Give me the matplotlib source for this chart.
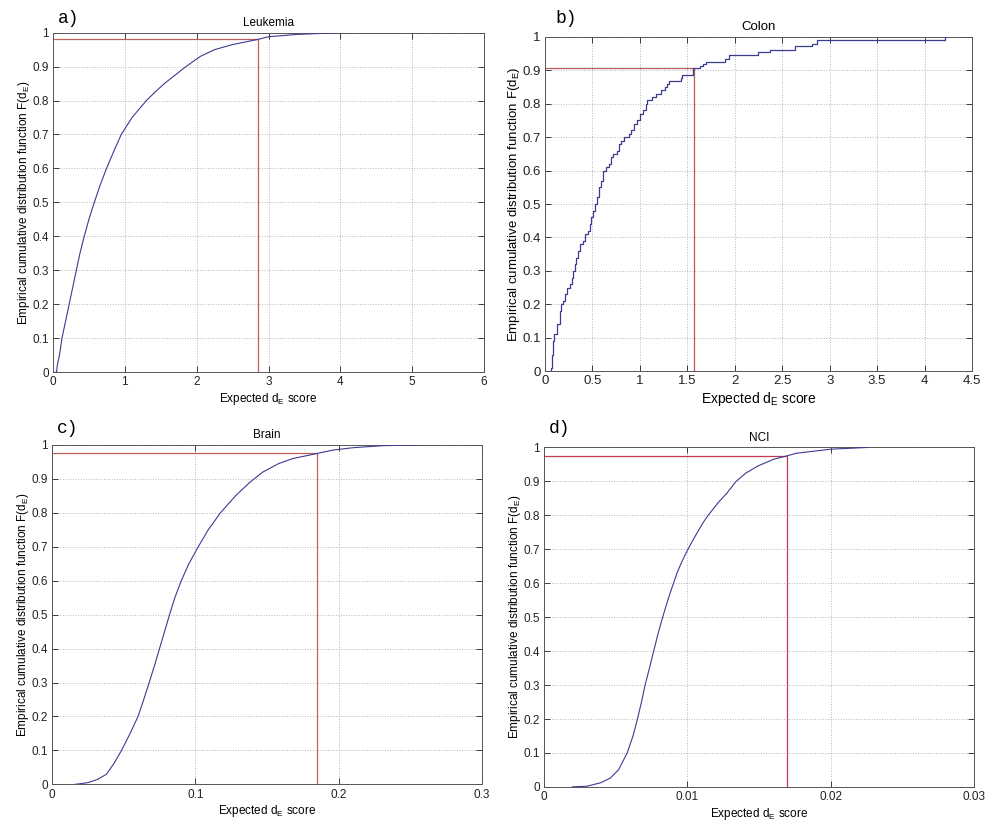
import matplotlib
matplotlib.use("Agg")
from matplotlib import pyplot as plt
from matplotlib.ticker import FuncFormatter

# ---- data ----
leuk_x = [0.04, 0.05, 0.06, 0.09, 0.125, 0.175, 0.225, 0.275, 0.325, 0.375, 0.435,
          0.50, 0.575, 0.655, 0.745, 0.845, 0.95, 1.10, 1.20, 1.30, 1.42, 1.55,
          1.70, 1.85, 2.05, 2.25, 2.50, 2.85, 3.00, 3.40, 4.00]
leuk_y = [0.0, 0.0, 0.02, 0.05, 0.10, 0.15, 0.20, 0.25, 0.30, 0.35, 0.40,
          0.45, 0.50, 0.55, 0.60, 0.65, 0.70, 0.75, 0.775, 0.80, 0.825, 0.85,
          0.875, 0.90, 0.93, 0.95, 0.965, 0.98, 0.988, 0.995, 1.0]

colon_x = [0.053, 0.06, 0.07, 0.085, 0.095, 0.13, 0.155, 0.17, 0.19, 0.21, 0.23,
           0.26, 0.28, 0.30, 0.32, 0.33, 0.35, 0.37, 0.40, 0.42, 0.45, 0.47, 0.49,
           0.51, 0.53, 0.55, 0.57, 0.59, 0.61, 0.64, 0.67, 0.70, 0.72, 0.76, 0.78,
           0.80, 0.83, 0.88, 0.91, 0.94, 0.97, 1.00, 1.03, 1.06, 1.08, 1.13, 1.17,
           1.22, 1.26, 1.29, 1.31, 1.43, 1.44, 1.56, 1.63, 1.67, 1.70, 1.90, 1.94,
           2.24, 2.37, 2.63, 2.81, 2.87, 4.22]
colon_y = [0.0, 0.01, 0.05, 0.09, 0.11, 0.14, 0.18, 0.20, 0.21, 0.23, 0.25,
           0.26, 0.28, 0.30, 0.32, 0.34, 0.36, 0.38, 0.39, 0.41, 0.42, 0.44, 0.46,
           0.48, 0.50, 0.52, 0.55, 0.57, 0.60, 0.61, 0.62, 0.64, 0.65, 0.66, 0.68,
           0.69, 0.70, 0.71, 0.72, 0.74, 0.75, 0.77, 0.78, 0.80, 0.81, 0.82, 0.83,
           0.84, 0.85, 0.86, 0.867, 0.877, 0.885, 0.906, 0.913, 0.92, 0.925, 0.935, 0.947,
           0.955, 0.962, 0.972, 0.98, 0.992, 1.0]

brain_x = [0.016, 0.025, 0.032, 0.038, 0.043, 0.0485, 0.0545, 0.0600, 0.0640,
           0.0678, 0.0715, 0.0750, 0.0785, 0.0820, 0.0857, 0.0902, 0.0955, 0.1020,
           0.109, 0.1175, 0.128, 0.138, 0.147, 0.158, 0.168, 0.185, 0.196, 0.21,
           0.231, 0.2545]
brain_y = [0.0, 0.005, 0.015, 0.03, 0.06, 0.10, 0.15, 0.20, 0.25,
           0.30, 0.35, 0.40, 0.45, 0.50, 0.55, 0.60, 0.65, 0.70,
           0.75, 0.80, 0.85, 0.89, 0.92, 0.945, 0.96, 0.975, 0.985, 0.992,
           0.998, 1.0]

nci_x = [0.00197, 0.003, 0.00394, 0.00463, 0.00521, 0.0058, 0.00621, 0.00652,
         0.00680, 0.00708, 0.00736, 0.00765, 0.00795, 0.00821, 0.00849, 0.00879,
         0.00928, 0.00958, 0.00992, 0.0103, 0.0107, 0.01112, 0.01145, 0.0122,
         0.01275, 0.0134, 0.0141, 0.0149, 0.016, 0.017, 0.0176, 0.019, 0.020, 0.0225]
nci_y = [0.0, 0.002, 0.012, 0.026, 0.051, 0.10, 0.15, 0.20,
         0.25, 0.305, 0.35, 0.40, 0.45, 0.49, 0.53, 0.57,
         0.63, 0.66, 0.69, 0.72, 0.75, 0.78, 0.80, 0.84,
         0.865, 0.90, 0.925, 0.945, 0.965, 0.976, 0.983, 0.99, 0.995, 1.0]

titles = ["Leukemia", "Colon", "Brain", "NCI"]
letters = ["a)", "b)", "c)", "d)"]
thresh_x = [2.85, 1.57, 0.1847, 0.01697]
thresh_y = [0.981, 0.906, 0.975, 0.976]
xmax = [6, 4.5, 0.3, 0.03]
xstep = [1, 0.5, 0.1, 0.01]

series_x = [leuk_x, colon_x, brain_x, nci_x]
series_y = [leuk_y, colon_y, brain_y, nci_y]

plt.rcParams["font.family"] = ["Liberation Sans", "DejaVu Sans"]
plt.rcParams["mathtext.fontset"] = "custom"
plt.rcParams["mathtext.rm"] = "Liberation Sans"
plt.rcParams["mathtext.it"] = "Liberation Sans"

fig = plt.figure(figsize=(10, 8.38), dpi=100)

# axes boxes in figure fractions (left, bottom, width, height)
boxes = [
    (0.053, 0.556, 0.431, 0.405),
    (0.545, 0.557, 0.427, 0.399),
    (0.052, 0.064, 0.430, 0.405),
    (0.544, 0.061, 0.430, 0.405),
]
letter_pos = [(0.058, 0.978), (0.555, 0.978), (0.057, 0.489), (0.549, 0.489)]
big = [False, True, False, False]
red_colors = ["#c0605a", "#b85a58", "#c0605a", "#c03a50"]

fmt = FuncFormatter(lambda v, p: f"{v:g}")
curve_color = "#3b3b92"

for i in range(4):
    ax = fig.add_axes(boxes[i])
    fs = 9.5 if big[i] else 8.5
    if big[i]:
        ax.plot(series_x[i], series_y[i], color=curve_color, lw=0.9,
                drawstyle="steps-post", zorder=3)
    else:
        ax.plot(series_x[i], series_y[i], color=curve_color, lw=0.8, zorder=3)
    ax.plot([0, thresh_x[i], thresh_x[i]], [thresh_y[i], thresh_y[i], 0],
            color=red_colors[i], lw=0.9, zorder=2)

    ax.set_xlim(0, xmax[i])
    ax.set_ylim(0, 1)
    n = int(round(xmax[i] / xstep[i]))
    ax.set_xticks([k * xstep[i] for k in range(n + 1)])
    ax.set_yticks([k / 10 for k in range(11)])
    ax.xaxis.set_major_formatter(fmt)
    ax.yaxis.set_major_formatter(fmt)
    ax.tick_params(direction="in", length=4, width=0.6, top=True, right=True,
                   labelsize=fs, colors="#222222", pad=3)
    ax.grid(True, linestyle=":", color="#b5b5b5", linewidth=0.7)
    for s in ax.spines.values():
        s.set_color("#555555")
        s.set_linewidth(0.7)

    ax.set_title(titles[i], fontsize=fs, pad=5)
    ax.set_xlabel(r"Expected d$_E$ score", fontsize=fs + 0.5 if big[i] else fs,
                  labelpad=2)
    ax.set_ylabel(r"Empirical cumulative distribution function F(d$_E$)",
                  fontsize=fs, labelpad=0)

    fig.text(letter_pos[i][0], letter_pos[i][1], letters[i],
             family="Liberation Mono", fontsize=13, va="center", ha="left")

fig.savefig("out.png", dpi=100, facecolor="white")
